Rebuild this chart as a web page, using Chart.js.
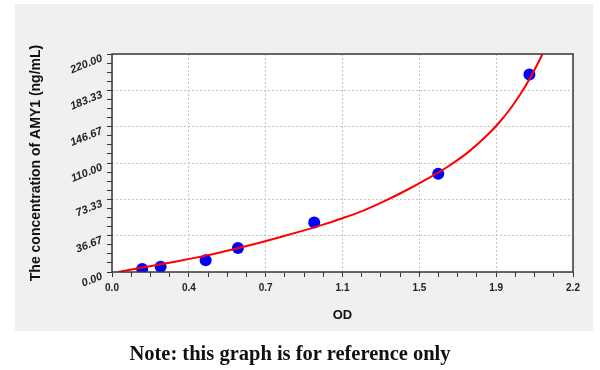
<!DOCTYPE html>
<html>
<head>
<meta charset="utf-8">
<script src="https://cdn.jsdelivr.net/npm/chart.js@4"></script>
<style>
html, body { margin: 0; padding: 0; background: #fff; }
#wrap { position: relative; width: 600px; height: 370px; }
#chart { position: absolute; left: 0; top: 0; }
#note { position: absolute; left: 0; top: 343px; width: 580px; text-align: center;
        font: bold 20.5px "Liberation Serif", serif; line-height: 20px; color: #111; }
</style>
</head>
<body>
<div id="wrap">
  <canvas id="chart" width="600" height="370"></canvas>
  <div id="note">Note: this graph is for reference only</div>
</div>
<script>
// standard points (OD, concentration)
var odValues = [0.144, 0.232, 0.447, 0.601, 0.965, 1.557, 1.992];
var concValues = [3.0, 5.4, 11.8, 24.3, 50.0, 99.2, 199.2];

// fitted curve
var curveOD = [0.03, 0.1, 0.2, 0.3, 0.4, 0.5, 0.6, 0.7, 0.8, 0.9, 1.0, 1.1, 1.2, 1.3, 1.4, 1.5, 1.6, 1.7, 1.8, 1.85, 1.9, 1.95, 2.0, 2.055];
var curveConc = [0, 2.8, 6.5, 10.3, 14.5, 19, 24, 29.3, 35, 41, 47.3, 54.3, 62, 71.5, 82, 93.5, 106, 121, 140, 151.4, 164.5, 179.8, 197.5, 220];

var xTickLabels = ['0.0', '0.4', '0.7', '1.1', '1.5', '1.9', '2.2'];
var yTickLabels = ['0.00', '36.67', '73.33', '110.00', '146.67', '183.33', '220.00'];
var xMax = 2.2;
var yMax = 220;

function toPoints(xs, ys) {
    return xs.map(function(x, i) { return {x: x, y: ys[i]}; });
}

// major ticks + 3 minor ticks between each pair
function buildTicks(max, count) {
    var out = [];
    for (var i = 0; i <= count * 4; i++) out.push({value: max * i / (count * 4)});
    return out;
}

var panelPlugin = {
    id: 'panel',
    beforeDraw: function(chart) {
        var c = chart.ctx, a = chart.chartArea;
        c.save();
        c.fillStyle = '#f0f0f0';
        c.fillRect(15, 4, 578, 327);
        c.fillStyle = '#ffffff';
        c.fillRect(a.left, a.top, a.right - a.left, a.bottom - a.top);
        c.restore();
    },
    afterDraw: function(chart) {
        var c = chart.ctx, a = chart.chartArea;
        c.save();
        c.strokeStyle = '#383838';
        c.lineWidth = 1.5;
        c.strokeRect(a.left, a.top, a.right - a.left, a.bottom - a.top);
        c.restore();
    }
};

var gridColor = function(ctx) { return ctx.index % 4 === 0 ? '#c4c4c4' : 'rgba(0,0,0,0)'; };

var ctx = document.getElementById('chart').getContext('2d');
var chart = new Chart(ctx, {
    type: 'scatter',
    data: {
        datasets: [{
            label: 'Curve',
            data: toPoints(curveOD, curveConc),
            showLine: true,
            borderColor: '#ff0000',
            borderWidth: 2,
            pointRadius: 0,
            cubicInterpolationMode: 'monotone',
            fill: false
        }, {
            label: 'Standards',
            data: toPoints(odValues, concValues),
            backgroundColor: '#0000ff',
            borderColor: '#0000ff',
            borderWidth: 0,
            pointRadius: 6
        }]
    },
    options: {
        responsive: false,
        animation: false,
        layout: { padding: { left: 15, top: 54, right: 27, bottom: 39 } },
        plugins: { legend: { display: false }, tooltip: { enabled: false } },
        scales: {
            x: {
                type: 'linear',
                min: 0,
                max: xMax,
                afterBuildTicks: function(axis) { axis.ticks = buildTicks(xMax, 6); },
                afterFit: function(axis) { axis.height = 59; },
                grid: { color: gridColor, tickColor: '#333', tickLength: 5, lineWidth: 1 },
                border: { display: false, dash: [2, 2] },
                ticks: {
                    autoSkip: false,
                    maxRotation: 0,
                    padding: 5,
                    color: '#222',
                    font: { family: '"Liberation Sans", Arial, sans-serif', size: 10, weight: 'bold' },
                    callback: function(v, i) { return i % 4 === 0 ? xTickLabels[i / 4] : ''; }
                },
                title: {
                    display: true,
                    text: 'OD',
                    color: '#111',
                    padding: { top: 0, bottom: 8 },
                    font: { family: '"Liberation Sans", Arial, sans-serif', size: 13, weight: 'bold' }
                }
            },
            y: {
                type: 'linear',
                min: 0,
                max: yMax,
                afterBuildTicks: function(axis) { axis.ticks = buildTicks(yMax, 6); },
                afterFit: function(axis) { axis.width = 97; },
                grid: { color: gridColor, tickColor: '#333', tickLength: 5, lineWidth: 1 },
                border: { display: false, dash: [2, 2] },
                ticks: {
                    autoSkip: false,
                    minRotation: 22,
                    maxRotation: 22,
                    padding: 5,
                    labelOffset: 4,
                    color: '#222',
                    font: { family: '"Liberation Sans", Arial, sans-serif', size: 11, weight: 'bold', style: 'italic' },
                    callback: function(v, i) { return i % 4 === 0 ? yTickLabels[i / 4] : ''; }
                },
                title: {
                    display: true,
                    text: 'The concentration of AMY1 (ng/mL)',
                    color: '#111',
                    padding: { top: 13, bottom: 0 },
                    font: { family: '"Liberation Sans", Arial, sans-serif', size: 14, weight: 'bold' }
                }
            }
        }
    },
    plugins: [panelPlugin]
});
</script>
</body>
</html>
